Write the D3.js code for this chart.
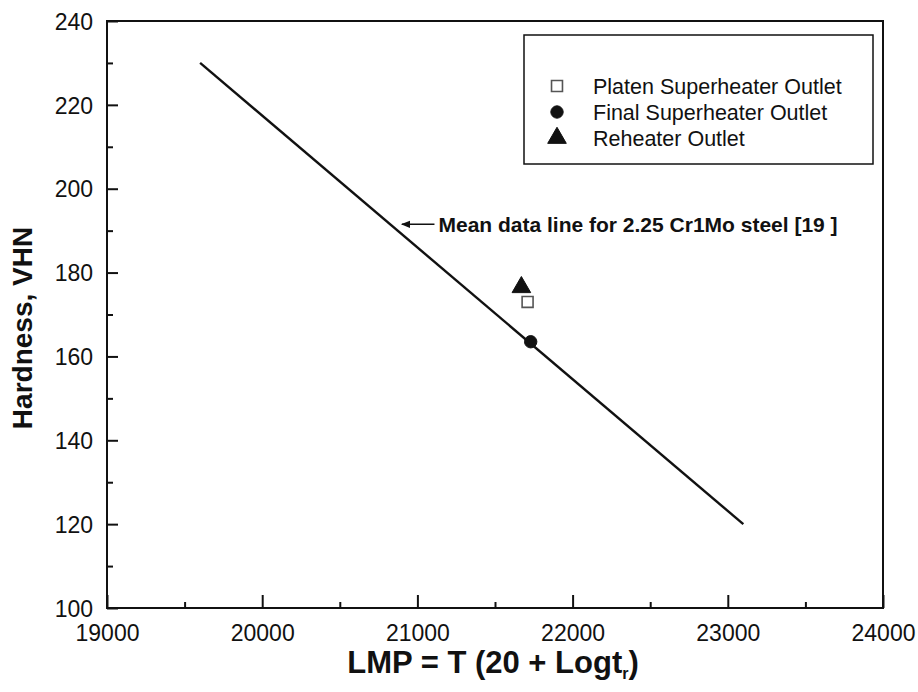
<!DOCTYPE html>
<html>
<head>
<meta charset="utf-8">
<script src="https://cdn.jsdelivr.net/npm/d3@7"></script>
<style>
  body { margin: 0; background: #fff; }
  text { font-family: "Liberation Sans", Arial, sans-serif; fill: #111; }
</style>
</head>
<body>
<svg id="chart" width="918" height="692"></svg>
<script>
// data
const meanLineLMP = [19600, 23100];
const meanLineHV = [230, 120];

const seriesNames = ["Platen Superheater Outlet", "Final Superheater Outlet", "Reheater Outlet"];
const seriesLMP = [[21710], [21730], [21670]];
const seriesHV = [[173], [163.5], [176.5]];

const xTicks = [19000, 20000, 21000, 22000, 23000, 24000];
const yTicks = [100, 120, 140, 160, 180, 200, 220, 240];

const noteText = "Mean data line for 2.25 Cr1Mo steel [19 ]";
const noteLMP = [21110, 20900]; // arrow tail, tip
const noteHV = 191.5;

// layout
const margin = { top: 21, left: 107, right: 35, bottom: 84 };
const width = 918, height = 692;

const svg = d3.select("#chart");

const x = d3.scaleLinear().domain([19000, 24000]).range([margin.left, width - margin.right]);
const y = d3.scaleLinear().domain([100, 240]).range([height - margin.bottom, margin.top]);

// frame
svg.append("rect")
  .attr("x", x(19000)).attr("y", y(240))
  .attr("width", x(24000) - x(19000)).attr("height", y(100) - y(240))
  .attr("fill", "none").attr("stroke", "#111").attr("stroke-width", 2);

// x axis: major ticks inside, minor every 500
const xAxis = (g) =>
  g.attr("transform", `translate(0, ${y(100)})`)
    .call(d3.axisBottom(x).tickValues(xTicks).tickSize(-13).tickFormat(d3.format("d")))
    .call((g) => g.select(".domain").remove())
    .call((g) => g.selectAll("line").attr("stroke", "#111").attr("stroke-width", 2))
    .call((g) => g.selectAll("text")
      .attr("y", 33).attr("dy", 0)
      .attr("font-size", "23px").attr("fill", "#111"));

const xMinor = (g) =>
  g.attr("transform", `translate(0, ${y(100)})`)
    .call(d3.axisBottom(x).tickValues(d3.range(19500, 24000, 1000)).tickSize(-6).tickFormat(""))
    .call((g) => g.select(".domain").remove())
    .call((g) => g.selectAll("line").attr("stroke", "#111").attr("stroke-width", 2));

const yAxis = (g) =>
  g.attr("transform", `translate(${x(19000)}, 0)`)
    .call(d3.axisLeft(y).tickValues(yTicks).tickSize(-11))
    .call((g) => g.select(".domain").remove())
    .call((g) => g.selectAll("line").attr("stroke", "#111").attr("stroke-width", 2))
    .call((g) => g.selectAll("text")
      .attr("x", -14).attr("dy", "0.36em")
      .attr("font-size", "23px").attr("fill", "#111"));

const yMinor = (g) =>
  g.attr("transform", `translate(${x(19000)}, 0)`)
    .call(d3.axisLeft(y).tickValues(d3.range(110, 240, 20)).tickSize(-6).tickFormat(""))
    .call((g) => g.select(".domain").remove())
    .call((g) => g.selectAll("line").attr("stroke", "#111").attr("stroke-width", 2));

svg.append("g").call(xMinor);
svg.append("g").call(xAxis);
svg.append("g").call(yMinor);
svg.append("g").call(yAxis);

// axis titles
const xTitle = svg.append("text")
  .attr("x", 493).attr("y", 673)
  .attr("text-anchor", "middle")
  .attr("font-size", "31px").attr("font-weight", "bold");
xTitle.append("tspan").text("LMP = T (20 + Logt");
xTitle.append("tspan").attr("font-size", "16px").attr("dy", 6).text("r");
xTitle.append("tspan").attr("dy", -6).text(")");

svg.append("text")
  .attr("transform", `translate(32, 328) rotate(-90)`)
  .attr("text-anchor", "middle")
  .attr("font-size", "28px").attr("font-weight", "bold")
  .text("Hardness, VHN");

// mean data line
const line = d3.line().x((d) => x(d[0])).y((d) => y(d[1]));
svg.append("path")
  .datum(d3.zip(meanLineLMP, meanLineHV))
  .attr("fill", "none").attr("stroke", "#111").attr("stroke-width", 2.4)
  .attr("d", line);

// symbols
const symbolTypes = [d3.symbolSquare, d3.symbolCircle, d3.symbolTriangle];
const symbolSize = [120, 120, 150];
const symbolFill = ["#fff", "#111", "#111"];

seriesNames.forEach((name, i) => {
  svg.append("g")
    .selectAll("path")
    .data(d3.zip(seriesLMP[i], seriesHV[i]))
    .enter()
    .append("path")
    .attr("transform", (d) => `translate(${x(d[0])}, ${y(d[1])})`)
    .attr("d", d3.symbol().type(symbolTypes[i]).size(symbolSize[i]))
    .attr("fill", symbolFill[i])
    .attr("stroke", i === 0 ? "#555" : "#111")
    .attr("stroke-width", i === 0 ? 1.6 : 1);
});

// annotation arrow + text
svg.append("defs").append("marker")
  .attr("id", "arrow").attr("viewBox", "0 0 10 10")
  .attr("refX", 9).attr("refY", 5)
  .attr("markerWidth", 8).attr("markerHeight", 6)
  .attr("orient", "auto")
  .append("path").attr("d", "M0,1 L10,5 L0,9 Z").attr("fill", "#111");

svg.append("line")
  .attr("x1", x(noteLMP[0])).attr("y1", y(noteHV))
  .attr("x2", x(noteLMP[1])).attr("y2", y(noteHV))
  .attr("stroke", "#111").attr("stroke-width", 1.5)
  .attr("marker-end", "url(#arrow)");

svg.append("text")
  .attr("x", x(noteLMP[0]) + 4).attr("y", y(noteHV))
  .attr("dy", "0.36em")
  .attr("font-size", "21px").attr("font-weight", "bold")
  .text(noteText);

// legend
const legend = svg.append("g").attr("transform", "translate(524, 35)");
legend.append("rect")
  .attr("width", 349).attr("height", 129)
  .attr("fill", "#fff").attr("stroke", "#111").attr("stroke-width", 1.5);

seriesNames.forEach((name, i) => {
  const row = legend.append("g").attr("transform", `translate(33, ${51 + i * 26})`);
  row.append("path")
    .attr("d", d3.symbol().type(symbolTypes[i]).size(symbolSize[i]))
    .attr("fill", symbolFill[i])
    .attr("stroke", i === 0 ? "#555" : "#111")
    .attr("stroke-width", i === 0 ? 1.6 : 1);
  row.append("text")
    .attr("x", 36).attr("dy", "0.36em")
    .attr("font-size", "21.5px")
    .text(name);
});
</script>
</body>
</html>
